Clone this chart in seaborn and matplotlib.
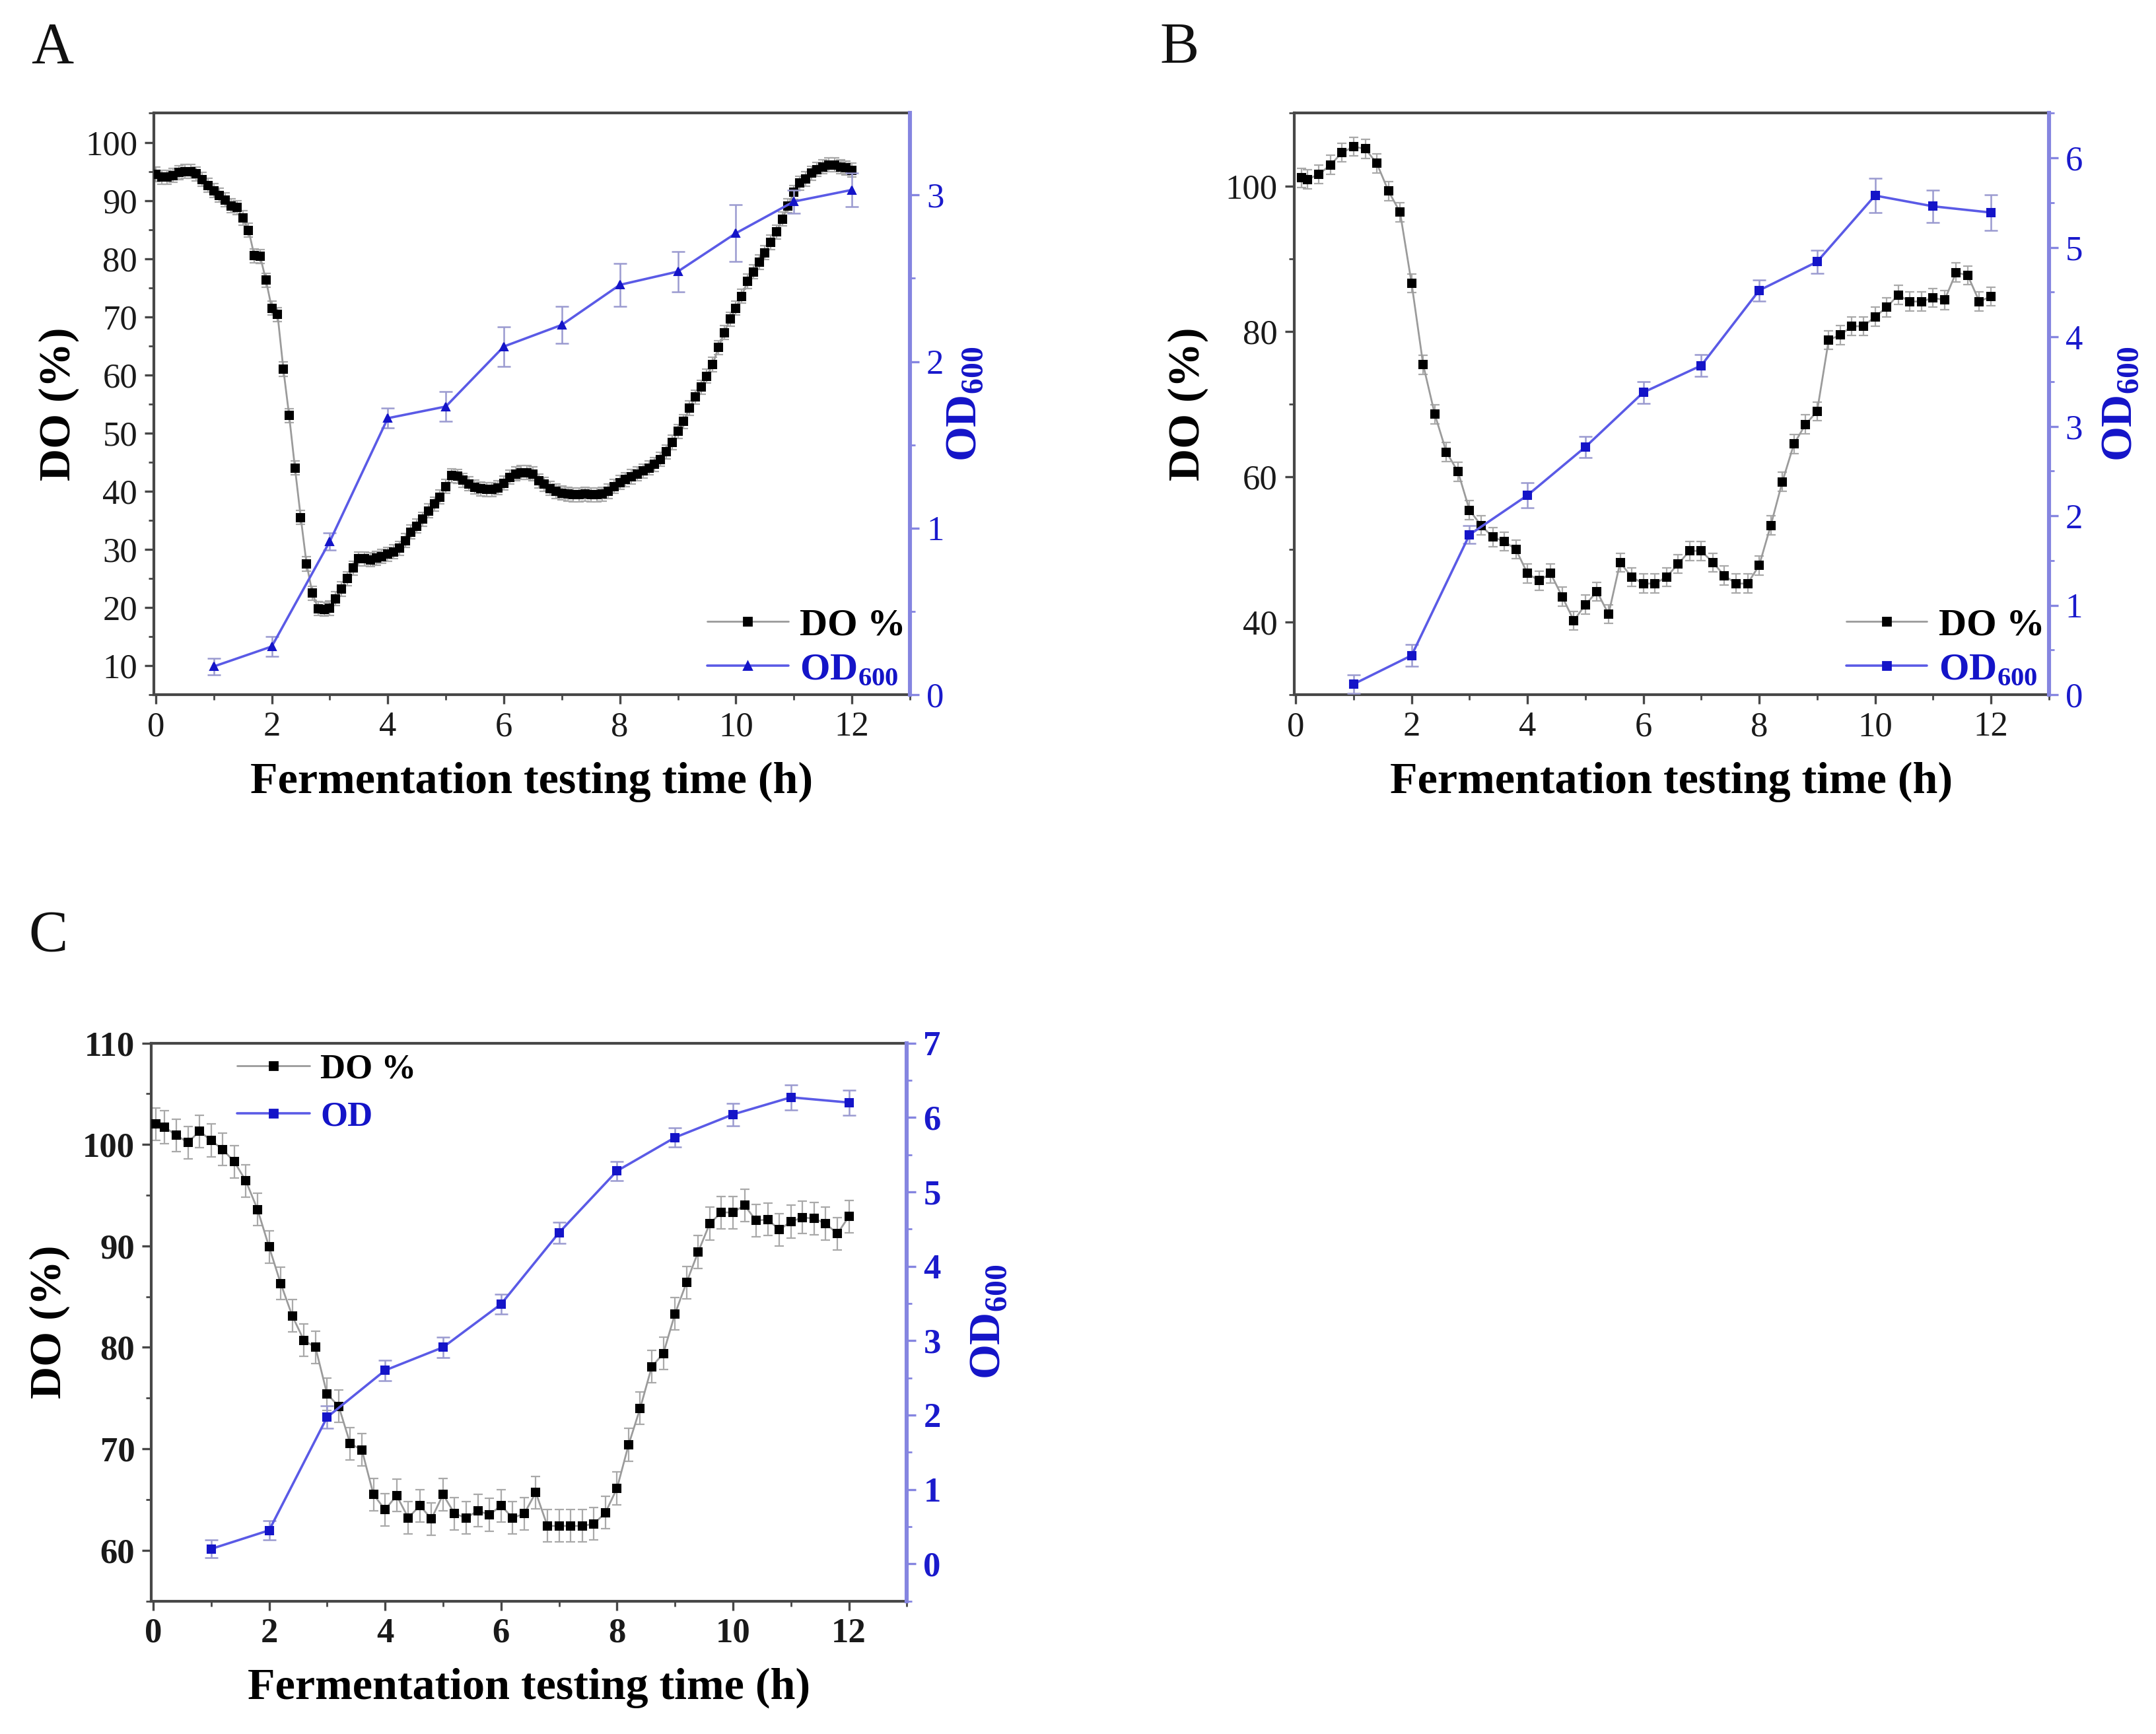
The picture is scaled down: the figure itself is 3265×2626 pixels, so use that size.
import numpy as np
import matplotlib
matplotlib.use('Agg')
import matplotlib.pyplot as plt
from matplotlib.ticker import MultipleLocator
from matplotlib.lines import Line2D
import seaborn as sns

# ---- data ----
# Panel A: DO sampled every 0.1 h
time_a = np.round(np.arange(0, 12.05, 0.1), 1)
do_a = [94.5, 94.0, 94.0, 94.3, 94.8, 95.0, 95.0, 94.6, 93.6, 92.6,
        91.7, 90.9, 90.1, 89.1, 88.8, 87.0, 84.9, 80.5, 80.4, 76.3,
        71.5, 70.4, 61.0, 53.0, 44.0, 35.5, 27.5, 22.5, 19.8, 19.7,
        19.9, 21.5, 23.2, 25.0, 26.8, 28.4, 28.4, 28.2, 28.5, 28.8,
        29.2, 29.6, 30.2, 31.5, 33.0, 34.0, 35.2, 36.6, 37.8, 39.0,
        40.8, 42.7, 42.6, 41.9, 41.3, 40.7, 40.4, 40.3, 40.3, 40.6,
        41.4, 42.4, 43.0, 43.2, 43.2, 43.0, 41.8, 41.2, 40.5, 40.0,
        39.7, 39.5, 39.4, 39.4, 39.5, 39.4, 39.4, 39.5, 40.0, 40.8,
        41.5, 42.0, 42.5, 43.0, 43.5, 44.0, 44.6, 45.5, 46.8, 48.4,
        50.3, 52.0, 54.3, 56.2, 57.9, 59.8, 61.8, 64.7, 67.3, 69.6,
        71.5, 73.5, 76.1, 77.7, 79.4, 81.0, 82.8, 84.6, 86.8, 89.1,
        91.4, 93.0, 93.7, 94.7, 95.3, 95.8, 96.1, 96.1, 95.8, 95.6,
        95.2]
do_a_err = 1.2

od_time = [1, 2, 3, 4, 5, 6, 7, 8, 9, 10, 11, 12]
od_a = [0.17, 0.29, 0.92, 1.66, 1.73, 2.09, 2.22, 2.46, 2.54, 2.77, 2.96, 3.03]
od_a_err = [0.05, 0.06, 0.05, 0.06, 0.09, 0.12, 0.11, 0.13, 0.12, 0.17, 0.07, 0.1]

# Panel B: DO sampled every 0.2 h
time_b = [0.1] + list(np.round(np.arange(0.2, 12.05, 0.2), 1))
do_b = [101.1, 100.9, 101.6, 102.9, 104.6, 105.4, 105.1, 103.1, 99.3, 96.4,
        86.6, 75.4, 68.6, 63.4, 60.7, 55.4, 53.3, 51.7, 51.1, 50.0,
        46.7, 45.7, 46.7, 43.5, 40.2, 42.4, 44.2, 41.1, 48.2, 46.2,
        45.3, 45.3, 46.2, 48.0, 49.8, 49.8, 48.2, 46.4, 45.3, 45.3,
        47.8, 53.3, 59.3, 64.5, 67.2, 69.0, 78.8, 79.5, 80.7, 80.7,
        82.0, 83.3, 85.0, 84.1, 84.1, 84.6, 84.3, 88.1, 87.7, 84.1,
        84.8]
do_b_err = 1.3
od_b = [0.12, 0.44, 1.79, 2.23, 2.77, 3.38, 3.68, 4.52, 4.84, 5.58, 5.46, 5.39]
od_b_err = [0.1, 0.12, 0.1, 0.14, 0.12, 0.12, 0.12, 0.12, 0.13, 0.19, 0.18, 0.2]

# Panel C: DO sampled every 0.2 h
time_c = [0.05] + list(np.round(np.arange(0.2, 12.05, 0.2), 1))
do_c = [102.0, 101.7, 100.9, 100.2, 101.3, 100.4, 99.5, 98.3, 96.4, 93.6,
        89.9, 86.3, 83.1, 80.7, 80.0, 75.4, 74.2, 70.5, 69.9, 65.5,
        64.0, 65.4, 63.2, 64.4, 63.1, 65.5, 63.6, 63.2, 63.9, 63.5,
        64.4, 63.2, 63.6, 65.7, 62.4, 62.4, 62.4, 62.4, 62.6, 63.7,
        66.1, 70.4, 74.0, 78.1, 79.4, 83.3, 86.4, 89.4, 92.2, 93.3,
        93.3, 94.0, 92.5, 92.6, 91.6, 92.4, 92.8, 92.7, 92.2, 91.2,
        92.9]
do_c_err = 1.6
od_c = [0.2, 0.45, 1.97, 2.6, 2.91, 3.49, 4.45, 5.28, 5.73, 6.04, 6.27, 6.2]
od_c_err = [0.12, 0.13, 0.15, 0.14, 0.14, 0.13, 0.14, 0.13, 0.13, 0.15, 0.17, 0.17]

# ---- style ----
sns.set_theme(style='ticks')
plt.rcParams['font.family'] = ['Liberation Serif', 'DejaVu Serif']
plt.rcParams['mathtext.fontset'] = 'custom'
plt.rcParams['mathtext.rm'] = 'Liberation Serif'
plt.rcParams['mathtext.bf'] = 'Liberation Serif:bold'

SPINE = '#474747'
DO_LINE = '#9b9b9b'
ERR = '#a9a9a9'
OD_LINE = '#5a5ae6'
OD_MARK = '#1414c8'
RSPINE = '#8585e0'
RTEXT = '#1a1acc'
OD_LABEL = r'OD$_{\mathbf{600}}$'

fig = plt.figure(figsize=(16.33, 13.13), dpi=200)


def panel(rect, t, do, do_err, od, od_err, do_lim, do_major, do_minor,
          od_lim, od_marker, ms, od_ms, bold_ticks, legend_labels, legend_loc, legend_anchor,
          legend_size, legend_gap, ylab_x, rlab_x):
    ax = fig.add_axes(rect)
    ax2 = ax.twinx()

    ax.errorbar(t, do, yerr=do_err, fmt='none', ecolor=ERR, elinewidth=0.8,
                capsize=2.5, capthick=0.8, zorder=2)
    sns.lineplot(x=t, y=do, ax=ax, color=DO_LINE, lw=1.0, marker='s', ms=ms,
                 markerfacecolor='black', markeredgecolor='black', errorbar=None,
                 sort=False, zorder=3)

    ax2.errorbar(od_time, od, yerr=od_err, fmt='none', ecolor='#9a9ad0', elinewidth=0.9,
                 capsize=3.5, capthick=0.9, zorder=2)
    sns.lineplot(x=od_time, y=od, ax=ax2, color=OD_LINE, lw=1.3, marker=od_marker, ms=od_ms,
                 markerfacecolor=OD_MARK, markeredgecolor=OD_MARK, errorbar=None,
                 sort=False, zorder=3)

    ax.set_xlim(-0.03, 13)
    ax.set_ylim(*do_lim)
    ax2.set_ylim(*od_lim)
    ax.xaxis.set_major_locator(MultipleLocator(2))
    ax.xaxis.set_minor_locator(MultipleLocator(1))
    ax.yaxis.set_major_locator(MultipleLocator(do_major))
    ax.yaxis.set_minor_locator(MultipleLocator(do_minor))
    ax2.yaxis.set_major_locator(MultipleLocator(1))
    ax2.yaxis.set_minor_locator(MultipleLocator(0.5))

    weight = 'bold' if bold_ticks else 'normal'
    ax.tick_params(axis='both', which='major', direction='out', length=5, width=1.2,
                   colors=SPINE, labelcolor='#1a1a1a', labelsize=19, pad=4)
    ax.tick_params(axis='both', which='minor', direction='out', length=3, width=1.0, colors=SPINE)
    ax2.tick_params(axis='y', which='major', direction='out', length=5, width=1.2,
                    colors=RSPINE, labelcolor=RTEXT, labelsize=19, pad=4)
    ax2.tick_params(axis='y', which='minor', direction='out', length=3, width=1.0, colors=RSPINE)
    for lab in ax.get_xticklabels() + ax.get_yticklabels() + ax2.get_yticklabels():
        lab.set_fontweight(weight)

    for s in ['left', 'bottom', 'top']:
        ax.spines[s].set_color(SPINE)
        ax.spines[s].set_linewidth(1.5)
    ax2.spines['right'].set_color(RSPINE)
    ax2.spines['right'].set_linewidth(2.2)
    for s in ['left', 'bottom', 'top']:
        ax2.spines[s].set_visible(False)

    ax.set_xlabel('Fermentation testing time (h)', fontsize=24.5, fontweight='bold',
                  color='black', labelpad=10)
    ax.set_ylabel('DO (%)', fontsize=24.5, fontweight='bold', color='black')
    ax.yaxis.set_label_coords(ylab_x, 0.5)
    ax2.set_ylabel(OD_LABEL, fontsize=24.5, fontweight='bold', color=OD_MARK)
    ax2.yaxis.set_label_coords(rlab_x, 0.5)

    handles = [
        Line2D([], [], color=DO_LINE, lw=1.0, marker='s', ms=ms,
               markerfacecolor='black', markeredgecolor='black'),
        Line2D([], [], color=OD_LINE, lw=1.3, marker=od_marker, ms=od_ms,
               markerfacecolor=OD_MARK, markeredgecolor=OD_MARK),
    ]
    leg = ax2.legend(handles, legend_labels, loc=legend_loc, bbox_to_anchor=legend_anchor,
                     frameon=False, handlelength=2.1, handletextpad=0.3, labelspacing=legend_gap,
                     borderaxespad=0.1, prop={'family': 'Liberation Serif', 'weight': 'bold',
                                             'size': legend_size})
    leg.get_texts()[0].set_color('black')
    leg.get_texts()[1].set_color(OD_MARK)
    return ax, ax2


panel([0.0714, 0.5993, 0.3505, 0.3354], time_a, do_a, do_a_err, od_a, od_a_err,
      (5, 105), 10, 5, (0, 3.49), '^', 4.0, 4.2, False, ['DO %', OD_LABEL],
      'lower right', (1.02, -0.02), 21, 0.25, -0.099, 1.046)

panel([0.600, 0.5993, 0.350, 0.3354], time_b, do_b, do_b_err, od_b, od_b_err,
      (30, 110), 20, 10, (0, 6.5), 's', 4.2, 4.2, False, ['DO %', OD_LABEL],
      'lower right', (1.02, -0.02), 21, 0.25, -0.113, 1.068)

panel([0.0702, 0.0767, 0.3503, 0.3218], time_c, do_c, do_c_err, od_c, od_c_err,
      (55, 110), 10, 5, (-0.5, 7), 's', 4.6, 4.4, True, ['DO %', 'OD'],
      'upper left', (0.09, 1.012), 19, 0.45, -0.108, 1.082)

for letter, x, y in [('A', 0.0242, 0.972), ('B', 0.547, 0.972), ('C', 0.0223, 0.46)]:
    fig.text(x, y, letter, fontsize=32, ha='center', va='center', color='#111111')

fig.savefig('out.png', dpi=200, facecolor='white')
